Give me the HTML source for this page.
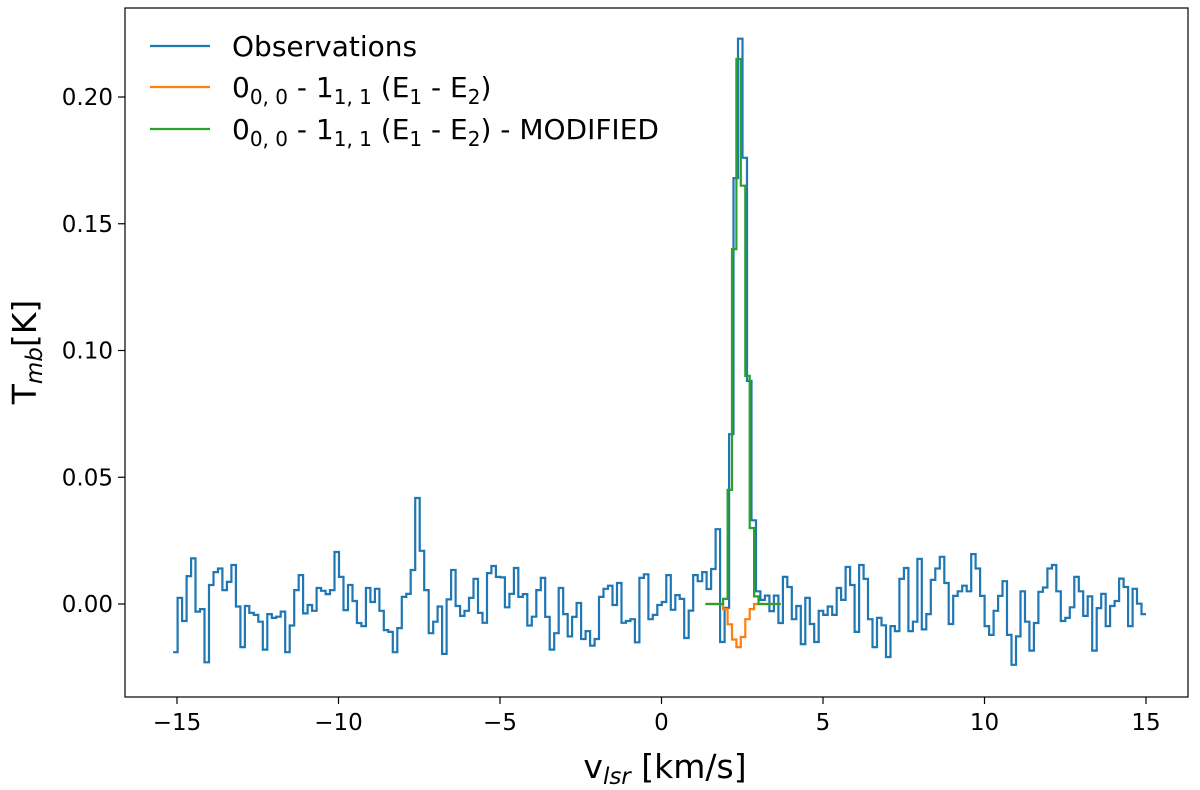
<!DOCTYPE html>
<html><head><meta charset="utf-8"><style>
body{margin:0;background:#fff;}
svg{display:block;font-family:"DejaVu Sans","Liberation Sans",sans-serif;}
</style></head><body>
<svg id="chart" width="1200" height="790" viewBox="0 0 1200 790">
<rect x="125" y="8" width="1063" height="689" fill="none" stroke="#000" stroke-width="1.2"/>
<g id="ticks"></g>
<g id="series"></g>
<text x="665" y="778" font-size="33" text-anchor="middle">v<tspan font-style="italic" font-size="23" dy="6">lsr</tspan><tspan dy="-6"> [km/s]</tspan></text>
<text transform="translate(36,352) rotate(-90)" font-size="33" text-anchor="middle">T<tspan font-style="italic" font-size="23" dy="6">mb</tspan><tspan dy="-6">[K]</tspan></text>
<g font-size="28">
<line x1="150" y1="46" x2="210" y2="46" stroke="#1f77b4" stroke-width="2.2"/>
<text x="232" y="56">Observations</text>
<line x1="150" y1="87" x2="210" y2="87" stroke="#ff7f0e" stroke-width="2.2"/>
<text x="232" y="97">0<tspan font-size="20" dy="7">0, 0</tspan><tspan dy="-7"> - 1</tspan><tspan font-size="20" dy="7">1, 1</tspan><tspan dy="-7"> (E</tspan><tspan font-size="20" dy="7">1</tspan><tspan dy="-7"> - E</tspan><tspan font-size="20" dy="7">2</tspan><tspan dy="-7">)</tspan></text>
<line x1="150" y1="129" x2="210" y2="129" stroke="#2ca02c" stroke-width="2.2"/>
<text x="232" y="139">0<tspan font-size="20" dy="7">0, 0</tspan><tspan dy="-7"> - 1</tspan><tspan font-size="20" dy="7">1, 1</tspan><tspan dy="-7"> (E</tspan><tspan font-size="20" dy="7">1</tspan><tspan dy="-7"> - E</tspan><tspan font-size="20" dy="7">2</tspan><tspan dy="-7">) - MODIFIED</tspan></text>
</g>
</svg>
<script>
const xTicks=[-15,-10,-5,0,5,10,15];
const xTickLabels=["\u221215","\u221210","\u22125","0","5","10","15"];
const yTicks=[0,0.05,0.10,0.15,0.20];
const yTickLabels=["0.00","0.05","0.10","0.15","0.20"];
const obsStart=-15.12, obsEnd=15.0;
const obsValues=[
-0.019,0.0024,-0.0067,0.011,0.018,-0.003,-0.002,-0.023,0.0075,0.0126,0.014,0.0055,0.0087,0.0154,-0.001,-0.017,-0.0008,-0.0035,-0.0043,-0.007,-0.018,-0.004,-0.0055,-0.005,-0.003,-0.019,-0.0085,0.0055,0.0114,-0.0037,-0.0004,-0.0027,0.0063,0.0052,0.0039,0.0055,0.0205,0.0107,-0.0024,0.0075,0.0012,-0.0075,-0.0087,0.0063,0.0008,0.006,-0.0027,-0.0103,-0.011,-0.019,-0.0095,0.0028,0.004,0.0134,0.0418,0.021,
0.0055,-0.0115,-0.007,-0.001,-0.0197,0.0018,0.0134,-0.0008,-0.0047,-0.0027,0.0024,0.0099,-0.0035,-0.0074,0.0122,0.015,0.0107,0.0105,-0.0013,0.004,0.0142,0.0028,0.0039,-0.0085,-0.005,0.0055,0.0103,-0.0051,-0.018,-0.0115,0.0063,-0.004,-0.0128,-0.0051,0.0004,-0.0138,-0.0107,-0.0164,-0.0138,0.0028,0.006,0.0072,-0.0004,0.0083,-0.0074,-0.0067,-0.006,-0.0151,0.0103,0.0117,-0.006,-0.0043,-0.0004,0.0008,0.0114,
-0.0023,0.0035,0.002,-0.0134,-0.0026,0.0114,0.009,0.0126,0.0059,0.0138,0.0295,-0.015,-0.0015,0.067,0.168,0.223,0.176,0.088,0.033,0.005,0.0016,0.0033,-0.0028,0.0033,-0.0075,
0.0107,0.0067,-0.006,-0.0008,-0.0158,0.0024,-0.0079,-0.015,-0.0027,-0.0043,-0.001,-0.0043,0.0063,0.0016,0.0146,0.0075,-0.011,0.0154,0.0099,-0.006,-0.017,-0.0055,-0.0084,-0.0209,-0.0087,-0.0107,0.0099,0.0142,-0.0107,-0.007,0.0178,-0.01,-0.004,0.0095,0.014,0.0186,0.0083,-0.0079,0.0032,0.005,0.0072,0.005,0.0197,
0.014,0.0032,-0.0087,-0.0122,-0.0027,0.0032,0.009,-0.0122,-0.024,-0.0128,0.005,-0.007,-0.0184,-0.0075,0.0048,0.0065,0.014,0.0154,0.005,-0.0067,-0.0055,-0.0013,0.0107,0.005,-0.0047,0.003,-0.0184,-0.0016,0.004,-0.0087,-0.0008,0.0012,0.01,0.0067,-0.0087,0.006,0.0001,-0.004
];
const modelStart=1.36, modelStep=0.137;
const modelValues=[0,0,0,0,-0.002,-0.008,-0.014,-0.017,-0.013,-0.006,-0.002,0,0,0,0,0,0];
const modifiedValues=[0,0,0,0,0.002,0.045,0.14,0.215,0.165,0.09,0.03,0.003,0,0,0,0,0];

const NS='http://www.w3.org/2000/svg';
const xs=v=>177+(v+15)*32.3;
const ys=v=>604-v*2535;
const tg=document.getElementById('ticks');
xTicks.forEach((t,i)=>{
  const l=document.createElementNS(NS,'line');
  
  
  l.setAttribute('x1',xs(t));l.setAttribute('x2',xs(t));l.setAttribute('y1',697);l.setAttribute('y2',704);l.setAttribute('stroke','#000');l.setAttribute('stroke-width','1.2');
  tg.appendChild(l);
  const tx=document.createElementNS(NS,'text');
  
  
  tx.setAttribute('x',xs(t));tx.setAttribute('y',730);tx.setAttribute('font-size','23');tx.setAttribute('text-anchor','middle');
  tx.textContent=xTickLabels[i];tg.appendChild(tx);
});
yTicks.forEach((t,i)=>{
  const l=document.createElementNS(NS,'line');
  
  
  l.setAttribute('x1',118);l.setAttribute('x2',125);l.setAttribute('y1',ys(t));l.setAttribute('y2',ys(t));l.setAttribute('stroke','#000');l.setAttribute('stroke-width','1.2');
  tg.appendChild(l);
  const tx=document.createElementNS(NS,'text');
  
  
  tx.setAttribute('x',113);tx.setAttribute('y',ys(t)+8);tx.setAttribute('font-size','23');tx.setAttribute('text-anchor','end');
  tx.textContent=yTickLabels[i];tg.appendChild(tx);
});
function stepPath(start,w,vals){
  let d='';
  vals.forEach((v,i)=>{
    const x0=xs(start+i*w),x1=xs(start+(i+1)*w),y=ys(v);
    d+=(i===0?'M':'L')+x0.toFixed(1)+','+y.toFixed(1)+'L'+x1.toFixed(1)+','+y.toFixed(1);
  });
  return d;
}
const sg=document.getElementById('series');
function addPath(d,color,name){
  const p=document.createElementNS(NS,'path');
  
  
  p.setAttribute('d',d);p.setAttribute('fill','none');p.setAttribute('stroke',color);p.setAttribute('stroke-width','2.2');
  sg.appendChild(p);
}
addPath(stepPath(obsStart,(obsEnd-obsStart)/obsValues.length,obsValues),'#1f77b4','observations-line');
addPath(stepPath(modelStart,modelStep,modelValues),'#ff7f0e','model-line');
addPath(stepPath(modelStart,modelStep,modifiedValues),'#2ca02c','modified-model-line');
</script>
</body></html>
